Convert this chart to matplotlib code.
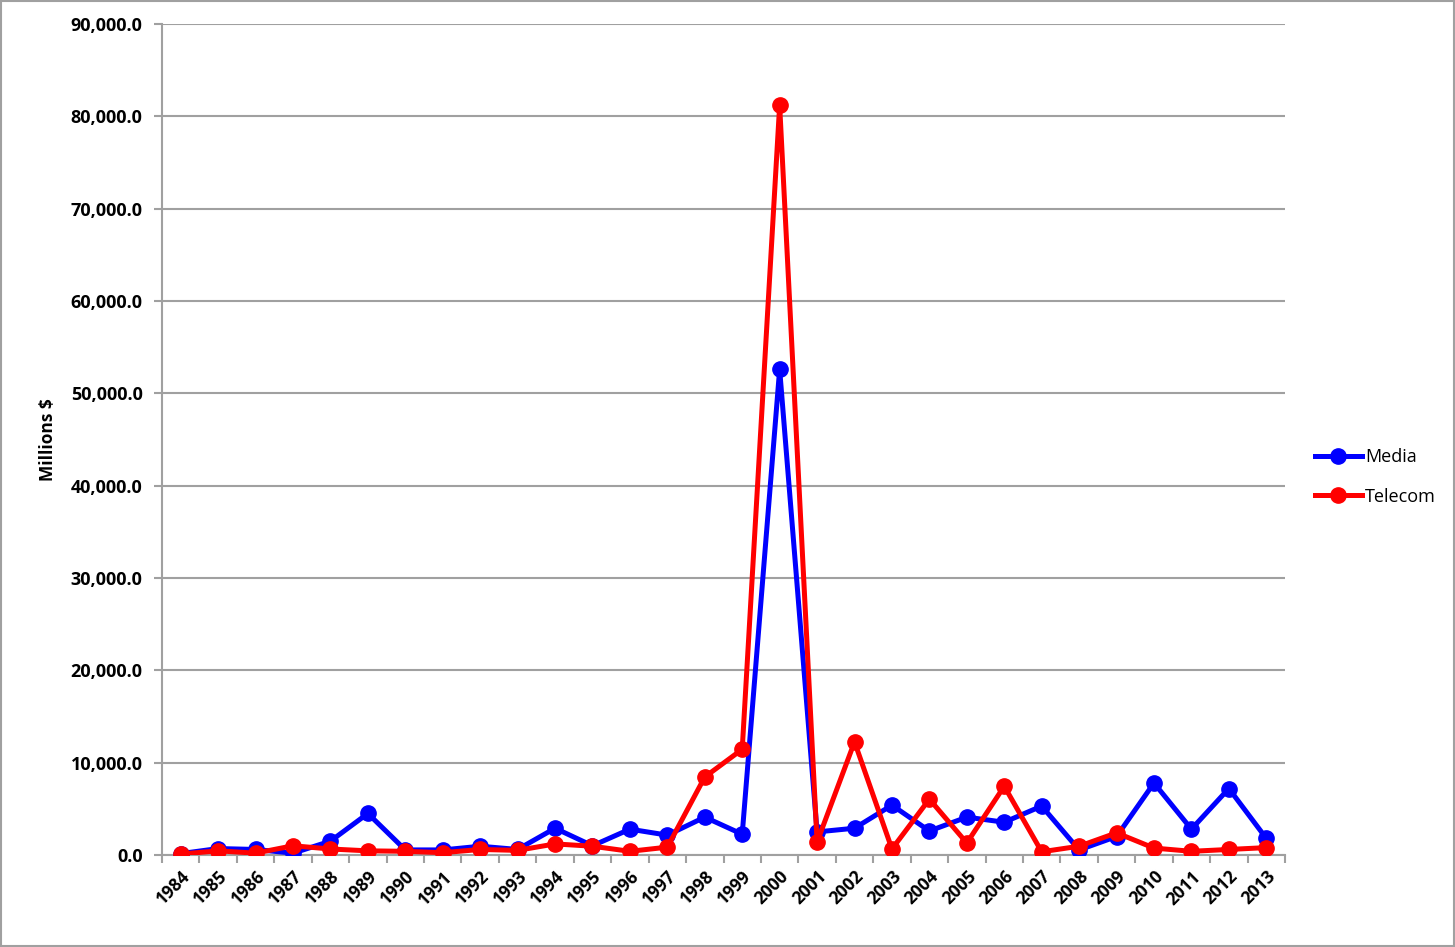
import numpy as np
import matplotlib
matplotlib.use("Agg")
import matplotlib.pyplot as plt
from matplotlib.ticker import FuncFormatter

# values (millions $)
years = list(range(1984, 2014))
media = [150, 700, 600, 200, 1500, 4500, 550, 550, 950, 600,
         2900, 1000, 2800, 2150, 4100, 2250, 52600, 2500, 2900, 5400,
         2600, 4100, 3550, 5300, 550, 2000, 7800, 2800, 7200, 1800]
telecom = [100, 450, 200, 1000, 650, 450, 400, 250, 600, 500,
           1200, 950, 400, 850, 8450, 11450, 81200, 1400, 12250, 650,
           6050, 1300, 7450, 350, 950, 2400, 750, 400, 600, 800]

plt.rcParams['font.family'] = ['Open Sans', 'DejaVu Sans']
plt.rcParams['font.weight'] = 'bold'

fig = plt.figure(figsize=(14.55, 9.47), dpi=100)
ax = fig.add_axes([162/1455, 1 - 855/947, (1285-162)/1455, (855-24)/947])

x = np.arange(len(years))
ax.plot(x, media, color='#0000ff', lw=3.6, marker='o', ms=11, label='Media', zorder=3)
ax.plot(x, telecom, color='#ff0000', lw=3.6, marker='o', ms=11, label='Telecom', zorder=4)

ax.set_xlim(-0.5, len(years) - 0.5)
ax.set_ylim(0, 90000)
ax.set_yticks(np.arange(0, 90001, 10000))
ax.yaxis.set_major_formatter(FuncFormatter(lambda v, p: '{:,.1f}'.format(v)))
ax.grid(axis='y', color='#a0a0a0', lw=1.5)
ax.set_axisbelow(True)

ax.set_xticks(x)
ax.set_xticklabels([str(y) for y in years], rotation=45, ha='right',
                   rotation_mode='anchor', fontweight='bold', fontsize=12.5)
ax.set_xticks(np.arange(-0.5, len(years)), minor=True)
ax.tick_params(axis='x', which='major', length=0, pad=9)
ax.tick_params(axis='x', which='minor', length=6, color='#a0a0a0', width=1.5)
ax.tick_params(axis='y', length=6, color='#a0a0a0', width=1.5, labelsize=13, pad=8)

for s in ['top', 'right']:
    ax.spines[s].set_visible(False)
for s in ['left', 'bottom']:
    ax.spines[s].set_color('#a0a0a0')
    ax.spines[s].set_linewidth(1.5)

ax.set_ylabel('Millions $', fontweight='bold', fontsize=12.5, labelpad=10)

leg = ax.legend(loc='center left', bbox_to_anchor=(1.012, 0.455), frameon=False,
                fontsize=13, handlelength=2.6, labelspacing=1.2, handletextpad=0.2)
for t in leg.get_texts():
    t.set_fontweight('normal')

fig.patches.append(plt.Rectangle((0.001, 0.001), 0.998, 0.998, transform=fig.transFigure,
                                 fill=False, edgecolor='#a0a0a0', lw=1.5))

fig.savefig('out.png', dpi=100)
